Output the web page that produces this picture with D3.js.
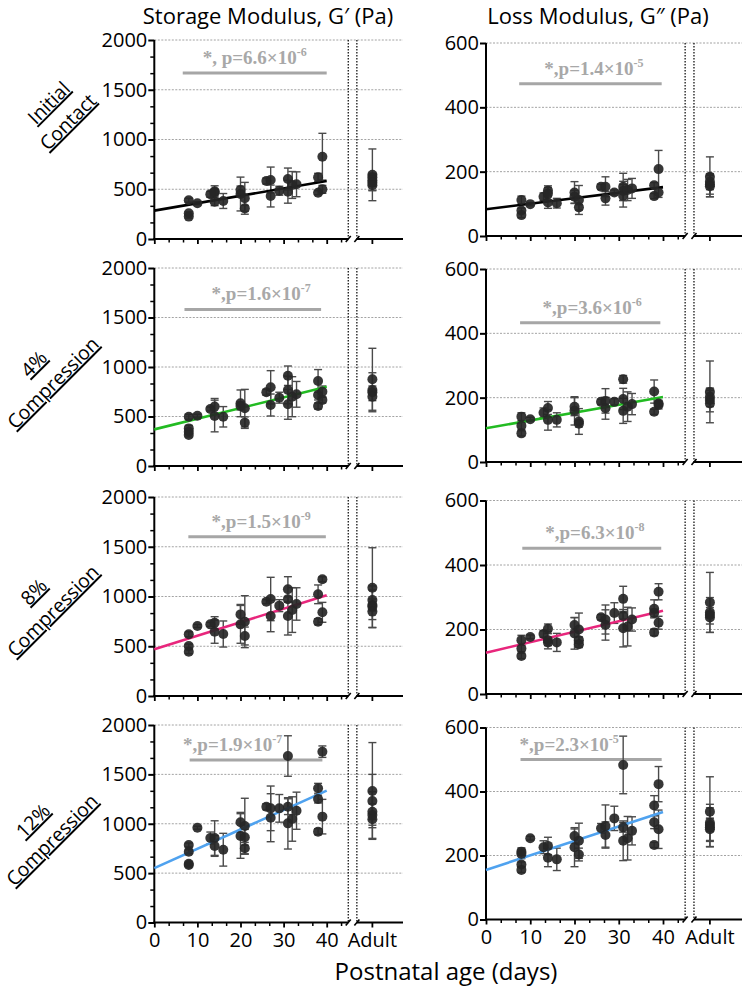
<!DOCTYPE html>
<html>
<head>
<meta charset="utf-8">
<script src="https://cdn.jsdelivr.net/npm/d3@7"></script>
<style>body{margin:0;background:#fff;}</style>
</head>
<body>
<script>
// ---------- data ----------
var rowNames = [["Initial", "Contact"], ["4%", "Compression"], ["8%", "Compression"], ["12%", "Compression"]];
var colTitles = ["Storage Modulus, G\u2032 (Pa)", "Loss Modulus, G\u2033 (Pa)"];
var xTicks = [0, 10, 20, 30, 40];
var storageTicks = [0, 500, 1000, 1500, 2000];
var lossTicks = [0, 200, 400, 600];
var adultAge = 50.6;

// [age (days), mean, sd]
var icStorage = [[8,390,20],[8,258,15],[8,225,15],[10,360,15],[13,449,30],[14,480,55],[14,375,40],[14,469,30],[16,382,75],
  [20,452,170],[20,492,40],[21,409,160],[21,308,30],[26,583,30],[27,593,130],[27,432,110],[29,485,45],[31,603,110],[31,475,115],
  [32,543,135],[33,550,125],[38,620,40],[38,465,20],[39,827,235],[39,499,40]];
var icStorageAdult = [[645,260],[620,40],[590,60],[565,80],[540,50]];

var icLoss = [[8,112,12],[8,79,8],[8,65,8],[10,99,5],[13,122,12],[14,141,15],[14,131,20],[14,104,18],[16,102,15],[20,135,34],
  [20,122,20],[21,112,45],[21,89,8],[26,153,8],[27,153,31],[27,117,21],[29,135,8],[31,153,42],[31,140,30],[31,125,35],[32,143,33],
  [33,148,31],[38,158,8],[38,124,8],[39,208,58],[39,135,15]];
var icLossAdult = [[184,62],[169,25],[160,30],[155,33]];

var c4Storage = [[8,497,25],[8,380,30],[8,345,25],[8,313,20],[10,508,15],[13,576,20],[14,600,82],[14,505,160],[16,497,103],
  [20,633,135],[20,606,40],[21,584,190],[21,438,58],[26,745,30],[27,795,168],[27,616,111],[29,690,55],[31,912,98],[31,768,140],
  [31,623,151],[32,700,202],[33,724,130],[38,859,115],[38,717,50],[38,606,30],[39,751,57],[39,667,30]];
var c4StorageAdult = [[876,313],[768,40],[745,197],[700,40]];

var c4Loss = [[8,141,12],[8,113,12],[8,89,8],[10,133,6],[13,153,15],[14,168,20],[14,131,32],[16,131,22],[20,172,28],[20,159,44],
  [21,126,40],[21,119,10],[26,187,8],[27,190,38],[27,167,34],[29,187,10],[31,257,12],[31,196,33],[31,159,39],[32,172,46],[33,180,33],
  [38,219,36],[38,156,8],[39,182,10],[39,177,12]];
var c4LossAdult = [[218,96],[203,20],[193,37],[182,10]];

var c8Storage = [[8,620,25],[8,502,20],[8,445,20],[10,704,15],[13,720,20],[14,737,60],[14,646,116],[16,623,131],[20,820,100],
  [20,720,190],[21,747,261],[21,603,90],[26,948,20],[27,975,218],[27,804,158],[29,908,60],[31,1072,127],[31,972,30],[31,804,191],
  [32,864,225],[33,925,163],[38,1022,94],[38,747,30],[39,1173,25],[39,841,100]];
var c8StorageAdult = [[1088,402],[965,100],[915,60],[898,208],[848,80]];

var c8Loss = [[8,167,15],[8,141,10],[8,118,8],[10,177,6],[13,186,10],[14,202,15],[14,167,27],[14,160,10],[16,160,28],[20,214,23],
  [20,188,49],[21,200,51],[21,167,10],[21,154,10],[26,238,8],[27,231,45],[27,214,47],[29,251,32],[31,295,39],[31,242,10],[31,204,58],
  [32,209,60],[33,231,36],[38,264,28],[38,251,12],[38,191,10],[39,317,25],[39,221,20]];
var c8LossAdult = [[284,93],[253,15],[245,54],[237,20]];

var c12Storage = [[8,785,20],[8,717,20],[8,595,15],[8,582,15],[10,960,15],[13,856,60],[14,855,175],[14,775,105],[16,737,166],
  [20,1015,100],[20,876,226],[21,977,281],[21,863,80],[21,751,60],[26,1173,30],[27,1156,226],[27,1061,243],[29,1156,140],
  [31,1686,205],[31,1173,80],[31,1004,260],[32,1048,225],[33,1132,188],[38,1359,50],[38,1250,40],[38,920,30],[39,1730,58],[39,1072,175]];
var c12StorageAdult = [[1332,490],[1230,270],[1122,80],[1088,236],[1045,60]];

var c12Loss = [[8,212,12],[8,205,15],[8,172,8],[8,155,8],[10,254,6],[13,226,20],[14,230,27],[14,193,28],[16,188,35],[20,261,22],
  [20,226,61],[21,246,55],[21,203,20],[26,285,15],[27,292,66],[27,264,41],[29,316,38],[31,483,90],[31,288,15],[31,246,62],[32,254,68],
  [33,277,44],[38,356,31],[38,304,20],[38,233,8],[39,423,55],[39,282,60]];
var c12LossAdult = [[337,109],[302,58],[295,20],[288,61],[282,35]];

// linear fits: value at day 0 and day 40
var fits = [[285,583],[83,152],[370,800],[105,202],[470,1013],[128,258],[550,1335],[155,336]];
var fitColors = ["#000000", "#22bb22", "#e8267c", "#4fa2ef"];

// significance bars: [from day, to day, value, text centre day, text, exponent]
var sigBars = [[6.6,40,1668,23.3,"*, p=6.6\u00d710","-6"],[7.5,39.7,473,24.4,"*,p=1.4\u00d710","-5"],
  [7,38.7,1582,24.8,"*,p=1.6\u00d710","-7"],[7.7,39.4,433,24.0,"*,p=3.6\u00d710","-6"],
  [7.9,39.8,1601,24.8,"*,p=1.5\u00d710","-9"],[8.2,39.6,452,24.6,"*,p=6.3\u00d710","-8"],
  [8.2,39,1646,18.2,"*,p=1.9\u00d710","-7"],[7.8,39.7,500,18.8,"*,p=2.3\u00d710","-5"]];

var allPoints = [icStorage, icLoss, c4Storage, c4Loss, c8Storage, c8Loss, c12Storage, c12Loss];
var allAdult = [icStorageAdult, icLossAdult, c4StorageAdult, c4LossAdult, c8StorageAdult, c8LossAdult, c12StorageAdult, c12LossAdult];

// ---------- layout ----------
var cols = [
  {x0: 154.3, x40: 326.7, xEnd: 403, max: 2000, ticks: storageTicks, minor: 500 / 3,
   rows: [[40, 239], [268, 466], [497, 696], [725, 922.5]], title: 268},
  {x0: 486, x40: 663, xEnd: 742, max: 600, ticks: lossTicks, minor: 0,
   rows: [[43, 236], [269, 462], [500.5, 694], [727.5, 919.5]], title: 598}
];
var sans = "'Open Sans', 'Noto Sans', sans-serif";

var svg = d3.select("body").append("svg")
  .attr("width", 749)
  .attr("height", 998);
svg.append("rect").attr("width", 749).attr("height", 998).attr("fill", "#fff");

// column titles
cols.forEach(function(c, i) {
  svg.append("text")
    .attr("x", c.title).attr("y", 24)
    .attr("text-anchor", "middle")
    .attr("font-family", sans).attr("font-size", 22)
    .text(colTitles[i]);
});

// row labels
var rowLabelPos = [[58, 112], [43, 373], [43, 601], [42, 830]];
rowNames.forEach(function(n, i) {
  var lab = svg.append("g")
    .attr("transform", "translate(" + rowLabelPos[i][0] + "," + rowLabelPos[i][1] + ") rotate(-45)");
  n.forEach(function(t, k) {
    lab.append("text")
      .attr("x", 0).attr("y", k === 0 ? -6 : 21)
      .attr("text-anchor", "middle")
      .attr("font-family", sans).attr("font-size", 19.5)
      .attr("text-decoration", "underline")
      .text(t);
  });
});

for (var p = 0; p < 8; p++) {
  drawPanel(p);
}

function drawPanel(p) {
  var row = Math.floor(p / 2), col = p % 2;
  var c = cols[col], r = c.rows[row];
  var x = d3.scaleLinear().domain([0, 40]).range([c.x0, c.x40]);
  var y = d3.scaleLinear().domain([0, c.max]).range([r[1], r[0]]);
  var g = svg.append("g");

  // dotted grid
  g.selectAll(".grid")
    .data(c.ticks.filter(function(d) { return d > 0; }))
    .enter().append("line")
    .attr("x1", c.x0).attr("x2", c.xEnd)
    .attr("y1", function(d) { return y(d); })
    .attr("y2", function(d) { return y(d); })
    .attr("stroke", "#8c8c8c").attr("stroke-width", 0.8)
    .attr("stroke-dasharray", "2,1.5");

  // axis break (dotted verticals)
  [45, 47].forEach(function(b) {
    g.append("line")
      .attr("x1", x(b)).attr("x2", x(b))
      .attr("y1", r[0]).attr("y2", r[1])
      .attr("stroke", "#000").attr("stroke-width", 1.2)
      .attr("stroke-dasharray", "1.5,1.5");
  });

  // y axis
  var ya = g.append("g")
    .attr("transform", "translate(" + c.x0 + ",0)")
    .call(d3.axisLeft(y).tickValues(c.ticks).tickSize(6).tickPadding(1).tickFormat(d3.format("d")));
  ya.select(".domain").remove();
  ya.selectAll("line").attr("stroke-width", 2);
  ya.selectAll("text").attr("font-family", sans).attr("font-size", 20).attr("fill", "#000");
  if (c.minor) {
    var ym = d3.range(0, c.max, c.minor).filter(function(d) { return c.ticks.indexOf(Math.round(d)) < 0; });
    var yma = g.append("g")
      .attr("transform", "translate(" + c.x0 + ",0)")
      .call(d3.axisLeft(y).tickValues(ym).tickSize(4).tickFormat(""));
    yma.select(".domain").remove();
    yma.selectAll("line").attr("stroke-width", 1.5);
  }
  g.append("line")
    .attr("x1", c.x0).attr("x2", c.x0)
    .attr("y1", r[0]).attr("y2", r[1] + 1)
    .attr("stroke", "#000").attr("stroke-width", 2);

  // x axis
  var xa = g.append("g")
    .attr("transform", "translate(0," + r[1] + ")")
    .call(d3.axisBottom(x).tickValues(xTicks).tickSize(5).tickPadding(5.5).tickFormat(row === 3 ? d3.format("d") : ""));
  xa.select(".domain").remove();
  xa.selectAll("line").attr("stroke-width", 1.8);
  xa.selectAll("text").attr("font-family", sans).attr("font-size", 20).attr("fill", "#000");
  var xm = d3.range(0, 45, 10 / 3).filter(function(d, i) { return i % 3 !== 0; });
  var xma = g.append("g")
    .attr("transform", "translate(0," + r[1] + ")")
    .call(d3.axisBottom(x).tickValues(xm).tickSize(3.5).tickFormat(""));
  xma.select(".domain").remove();
  xma.selectAll("line").attr("stroke-width", 1.5);
  // adult tick
  g.append("line")
    .attr("x1", x(adultAge)).attr("x2", x(adultAge))
    .attr("y1", r[1]).attr("y2", r[1] + 5)
    .attr("stroke", "#000").attr("stroke-width", 1.8);
  if (row === 3) {
    g.append("text")
      .attr("x", x(adultAge)).attr("y", r[1] + 10.5).attr("dy", "0.71em")
      .attr("text-anchor", "middle")
      .attr("font-family", sans).attr("font-size", 20)
      .text("Adult");
  }
  [[c.x0 - 1, x(45)], [x(47), c.xEnd]].forEach(function(s) {
    g.append("line")
      .attr("x1", s[0]).attr("x2", s[1])
      .attr("y1", r[1]).attr("y2", r[1])
      .attr("stroke", "#000").attr("stroke-width", 2);
  });
  [45, 47].forEach(function(b) {
    g.append("line")
      .attr("x1", x(b) - 2.5).attr("x2", x(b) + 2.5)
      .attr("y1", r[1] + 3).attr("y2", r[1] - 3)
      .attr("stroke", "#000").attr("stroke-width", 1.6);
  });

  // significance annotation
  var s = sigBars[p];
  g.append("line")
    .attr("x1", x(s[0])).attr("x2", x(s[1]))
    .attr("y1", y(s[2])).attr("y2", y(s[2]))
    .attr("stroke", "#a6a6a6").attr("stroke-width", 3);
  var st = g.append("text")
    .attr("x", x(s[3])).attr("y", y(s[2]) - 9)
    .attr("text-anchor", "middle")
    .attr("font-family", "'Liberation Serif', 'DejaVu Serif', serif")
    .attr("font-weight", "bold").attr("font-size", 19)
    .attr("fill", "#a8a8a8");
  st.append("tspan").text(s[4]);
  st.append("tspan").attr("dy", -8).attr("font-size", 12).text(s[5]);

  // points (age groups + adult)
  var pts = allPoints[p].map(function(d) { return {x: d[0], m: d[1], sd: d[2]}; })
    .concat(allAdult[p].map(function(d) { return {x: adultAge, m: d[0], sd: d[1]}; }));

  var eb = g.append("g").attr("stroke", "#4a4a4a").attr("stroke-width", 1.4);
  pts.forEach(function(d) {
    var cx = x(d.x);
    eb.append("line").attr("x1", cx).attr("x2", cx).attr("y1", y(d.m - d.sd)).attr("y2", y(d.m + d.sd));
    eb.append("line").attr("x1", cx - 4).attr("x2", cx + 4).attr("y1", y(d.m - d.sd)).attr("y2", y(d.m - d.sd));
    eb.append("line").attr("x1", cx - 4).attr("x2", cx + 4).attr("y1", y(d.m + d.sd)).attr("y2", y(d.m + d.sd));
  });

  // fit line
  var f = fits[p];
  g.append("line")
    .attr("x1", x(0)).attr("x2", x(40))
    .attr("y1", y(f[0])).attr("y2", y(f[1]))
    .attr("stroke", fitColors[row]).attr("stroke-width", 2.6);

  g.selectAll(".pt")
    .data(pts)
    .enter().append("circle")
    .attr("cx", function(d) { return x(d.x); })
    .attr("cy", function(d) { return y(d.m); })
    .attr("r", 5)
    .attr("fill", "#262626")
    .attr("fill-opacity", 0.92);
}

// x axis title
svg.append("text")
  .attr("x", 446).attr("y", 980)
  .attr("text-anchor", "middle")
  .attr("font-family", sans).attr("font-size", 24)
  .text("Postnatal age (days)");
</script>
</body>
</html>
